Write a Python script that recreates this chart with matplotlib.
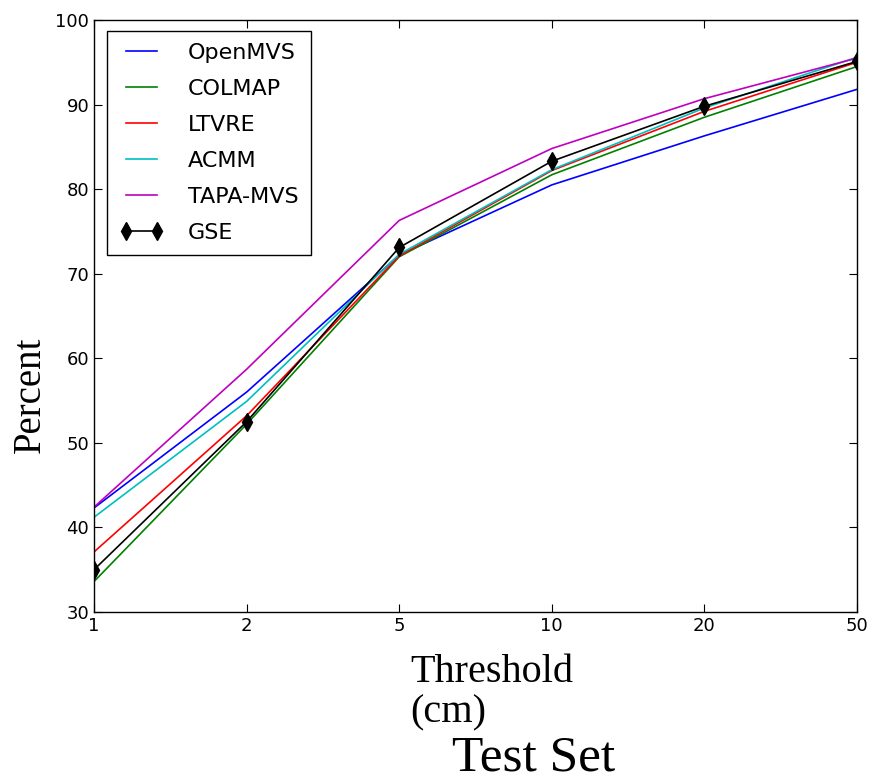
import matplotlib
matplotlib.use("Agg")
import matplotlib.pyplot as plt

thresholds = ["1", "2", "5", "10", "20", "50"]
openmvs = [42.3, 56.0, 72.2, 80.5, 86.3, 91.8]
colmap = [33.6, 52.2, 72.0, 81.7, 88.5, 94.5]
ltvre = [37.1, 53.2, 72.1, 82.2, 89.2, 95.0]
acmm = [41.2, 54.9, 72.3, 82.3, 89.6, 95.6]
tapa = [42.4, 58.7, 76.3, 84.8, 90.7, 95.5]
gse = [35.0, 52.5, 73.1, 83.3, 89.8, 95.1]

series = [("OpenMVS", openmvs, "b"), ("COLMAP", colmap, "g"), ("LTVRE", ltvre, "r"),
          ("ACMM", acmm, "c"), ("TAPA-MVS", tapa, "m")]

fig = plt.figure(figsize=(8.72, 7.81), dpi=100)
ax = fig.add_axes([94/872, 1-612/781, (857-94)/872, (612-20)/781])
x = list(range(len(thresholds)))
for name, vals, c in series:
    ax.plot(x, vals, color=c, lw=1.2, label=name)
ax.plot(x, gse, color="k", lw=1.2, marker="d", markersize=9, label="GSE")

ax.set_xlim(0, len(thresholds)-1)
ax.set_ylim(30, 100)
ax.set_xticks(x)
ax.set_xticklabels(thresholds)
ax.set_yticks(range(30, 101, 10))
ax.tick_params(direction="in", top=True, right=True, labelsize=13, length=6)
for s in ax.spines.values():
    s.set_linewidth(1.0)

leg = ax.legend(loc="upper left", fontsize=16, fancybox=False, edgecolor="black",
                handlelength=2.0, borderpad=0.55, labelspacing=0.72, handletextpad=1.1,
                numpoints=2, borderaxespad=0, framealpha=1,
                bbox_to_anchor=((107-94)/763, 1-(31-20)/592))
leg.get_frame().set_linewidth(1.0)

fig.text(30/872, 1-395/781, "Percent", family="Liberation Serif", fontsize=28,
         rotation=90, ha="center", va="center")
fig.text(410/872, 1-672/781, "Threshold", family="Liberation Serif", fontsize=29,
         ha="left", va="center")
fig.text(410/872, 1-713/781, "(cm)", family="Liberation Serif", fontsize=29,
         ha="left", va="center")
fig.text(534/872, 1-758/781, "Test Set", family="Liberation Serif", fontsize=37,
         ha="center", va="center")

fig.savefig("out.png", dpi=100)
